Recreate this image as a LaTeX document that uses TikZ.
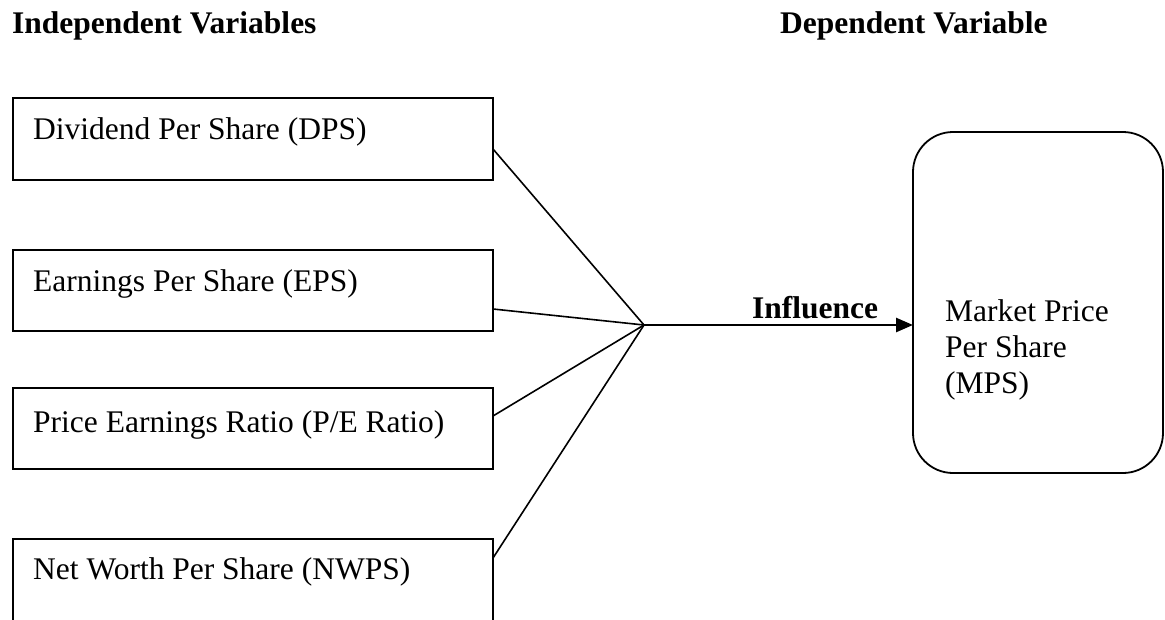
\documentclass[tikz,border=0pt]{standalone}
\usepackage{fontspec}
\setmainfont{Liberation Serif}
\usetikzlibrary{arrows.meta,calc}
\begin{document}
\begin{tikzpicture}[x=1pt,y=-1pt,
  ivbox/.style={draw, line width=1.8pt, anchor=north west, minimum width=480pt, inner sep=0pt, outer sep=0pt},
  dvbox/.style={draw, line width=1.8pt, anchor=north west, rounded corners=40pt, minimum width=250pt, minimum height=341pt, inner sep=0pt, outer sep=0pt},
  txt/.style={anchor=base west, inner sep=0pt, font=\fontsize{31.5}{36}\selectfont},
  head/.style={txt, font=\fontsize{31.5}{36}\selectfont\bfseries},
  conn/.style={line width=1.6pt},
  arr/.style={line width=2.6pt, -{Triangle[length=17pt,width=14pt]}}]
\useasboundingbox (0,0) rectangle (1165,619);
\clip (0,0) rectangle (1165,619);
% headings
\node[head] (hIV) at (12,33) {Independent Variables};
\node[head] (hDV) at (780,33) {Dependent Variable};
% independent variable boxes
\node[ivbox, minimum height=82pt] (b1) at (13,98) {};
\node[ivbox, minimum height=81pt] (b2) at (13,250) {};
\node[ivbox, minimum height=81pt] (b3) at (13,388) {};
\node[ivbox, minimum height=110pt] (b4) at (13,539) {};
\node[txt] (t1) at (33,139) {Dividend Per Share (DPS)};
\node[txt] (t2) at (33,291) {Earnings Per Share (EPS)};
\node[txt] (t3) at (33,432) {Price Earnings Ratio (P/E Ratio)};
\node[txt] (t4) at (33,579) {Net Worth Per Share (NWPS)};
% dependent variable box
\node[dvbox] (dv) at (913,132) {};
\node[txt] (m1) at (945,321) {Market Price};
\node[txt] (m2) at (945,357) {Per Share};
\node[txt] (m3) at (945,393) {(MPS)};
% connectors
\coordinate (hub) at (644,325);
\coordinate (p1) at ($(b1.north east)+(0,51)$);
\coordinate (p2) at ($(b2.north east)+(0,59)$);
\coordinate (p3) at ($(b3.north east)+(0,28)$);
\coordinate (p4) at ($(b4.north east)+(0,19)$);
\draw[conn] (p1) -- (hub);
\draw[conn] (p2) -- (hub);
\draw[conn] (p3) -- (hub);
\draw[conn] (p4) -- (hub);
\draw[arr] (hub) -- (hub -| dv.west);
\node[head] (inf) at (752,318) {Influence};
\end{tikzpicture}
\end{document}
